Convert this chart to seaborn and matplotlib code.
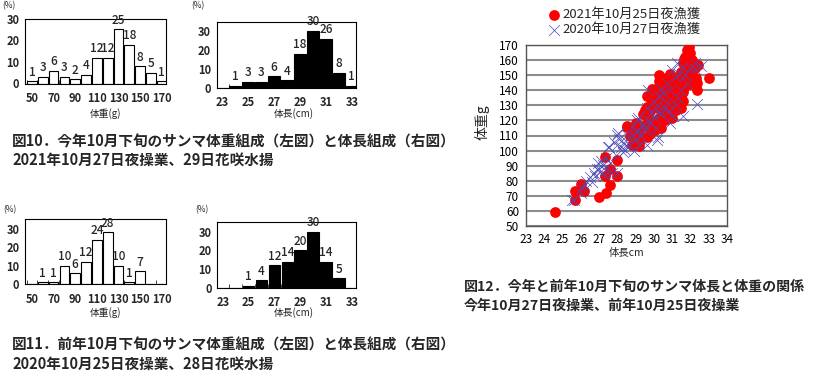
import matplotlib
matplotlib.use("Agg")
import matplotlib.pyplot as plt
import seaborn as sns
import pandas as pd
from matplotlib.ticker import MultipleLocator, FixedLocator

sns.set_style("white")
plt.rcParams['font.family'] = ['Noto Sans CJK JP', 'DejaVu Sans']

# ---------------- data ----------------
weight_bins = [50, 60, 70, 80, 90, 100, 110, 120, 130, 140, 150, 160, 170]
weight_2021 = [1, 3, 6, 3, 2, 4, 12, 12, 25, 18, 8, 5, 1]
weight_2020 = [0, 1, 1, 10, 6, 12, 24, 28, 10, 1, 7, 0, 0]

length_bins = [23, 24, 25, 26, 27, 28, 29, 30, 31, 32, 33]
length_2021 = [0, 1, 3, 3, 6, 4, 18, 30, 26, 8, 1]
length_2020 = [0, 0, 1, 4, 12, 14, 20, 30, 14, 5, 0]

weight_ticks = [50, 70, 90, 110, 130, 150, 170]
length_ticks = [23, 25, 27, 29, 31, 33]

red_len = [24.6, 25.7, 25.7, 26.0, 26.2, 27.0, 27.4, 27.3, 27.3, 27.6, 27.6, 28.0, 28.0,
           28.8, 29.2, 29.2, 28.5, 29.2, 29.6, 29.6, 29.5, 29.9, 31.9, 31.8, 31.65, 31.6,
           32.2, 32.25, 30.3, 30.66, 33.0, 32.35, 32.35, 31.6, 31.6, 30.4, 30.7, 30.97,
           31.25, 31.4, 31.9, 30.0, 29.8, 29.6, 29.9, 30.15, 30.5, 30.7, 31.0, 31.06, 31.0,
           30.9, 31.0, 30.3, 30.4, 30.0, 29.7, 29.5, 29.5, 29.2, 28.96, 28.5, 28.9, 29.2,
           29.6, 30.06, 30.2, 30.5, 30.8, 31.2, 30.1, 30.6, 31.3, 31.5, 29.8, 30.3, 31.8,
           32.0, 31.7, 30.9, 30.4, 29.9, 30.6, 31.2, 31.5, 32.0, 30.8, 29.4, 29.0, 28.7,
           29.8, 31.3, 30.2, 32.1, 31.5, 31.2, 31.8, 32.3, 30.8, 31.5, 32.0, 31.1, 30.6,
           31.7, 32.4, 30.3, 29.9, 30.5]
red_wt = [59, 67, 73, 78, 73, 69, 72, 96, 83, 88, 77, 94, 83,
          104, 103, 106, 116, 108, 136, 128, 117, 113, 168.5, 167, 160.5, 158,
          158, 154.6, 150, 148, 148, 145, 140, 139, 133, 143.5, 144.6, 146.8,
          149, 146.8, 146.8, 138, 135.7, 129, 132.4, 133.5, 137, 139, 139, 135.7, 132.4,
          127, 121.4, 121.4, 114.8, 119, 122.5, 127, 116, 112.5, 113.7, 115.8, 103.7, 106,
          109, 113.7, 128, 125, 130, 127, 140, 142, 142, 136, 126, 146, 150,
          152, 162, 151, 133, 118, 120, 137, 128, 144, 134, 124, 118, 110,
          111, 131, 116, 160, 142, 145, 155, 148, 147, 152, 165, 141, 136,
          143, 157, 143, 141, 131]

blue_len = [25.5, 25.6, 26.05, 26.2, 26.5, 26.7, 26.87, 26.96, 27.05, 27.2, 27.3, 27.6, 27.7,
            27.56, 28.0, 28.2, 28.4, 28.5, 29.6, 30.15, 28.0, 28.3, 28.8, 29.15, 29.06, 29.5,
            31.25, 32.25, 32.6, 32.25, 31.6, 31.4, 31.2, 32.35, 31.6, 31.0, 30.9, 30.7, 30.3,
            30.15, 29.9, 30.2, 29.7, 29.4, 29.06, 29.1, 28.8, 28.5, 28.1, 27.96, 27.5, 27.8,
            30.2, 29.5, 31.7, 32.0, 31.0, 30.7, 30.4, 30.0, 29.7, 30.6, 26.0, 26.3, 26.8,
            27.1, 27.4, 27.0, 27.9, 28.3, 28.6, 29.0, 29.3, 29.8, 30.0, 30.4, 30.8, 31.2,
            31.5, 31.8, 30.5, 29.2, 28.9, 27.3, 26.6, 30.9, 31.3, 30.1, 29.6, 28.05]
blue_wt = [67, 67.5, 75, 77, 82.7, 85, 88, 91.6, 86, 90.5, 87, 91.6, 85,
           102.6, 85, 102.6, 100.4, 103, 103.7, 107, 110.3, 104.8, 115.8, 121.4, 112.5, 115.8,
           158, 158, 156, 154, 155.6, 151, 149, 131, 123, 123, 118, 132.4, 136,
           130.2, 125.8, 125.8, 120.3, 117, 120.3, 113.7, 110.3, 110.3, 108, 103.7, 102.6, 106,
           109.2, 113.7, 150, 154.6, 153.4, 144.6, 141, 132.4, 140, 128, 72, 80, 83,
           93, 95, 88, 97, 99, 105, 108, 110, 118, 122, 124, 126, 130,
           140, 145, 138, 104, 100, 84, 79, 140, 135, 115, 128, 111.9]

legend_red = "2021年10月25日夜漁獲"
legend_blue = "2020年10月27日夜漁獲"

cap10_1 = "図10．今年10月下旬のサンマ体重組成（左図）と体長組成（右図）"
cap10_2 = "2021年10月27日夜操業、29日花咲水揚"
cap11_1 = "図11．前年10月下旬のサンマ体重組成（左図）と体長組成（右図）"
cap11_2 = "2020年10月25日夜操業、28日花咲水揚"
cap12_1 = "図12．今年と前年10月下旬のサンマ体長と体重の関係"
cap12_2 = "今年10月27日夜操業、前年10月25日夜操業"

# ---------------- figure ----------------
W, H = 816, 391
fig = plt.figure(figsize=(W / 100, H / 100), dpi=100)


def axes_px(left, top, right, bottom):
    return fig.add_axes([left / W, 1 - bottom / H, (right - left) / W, (bottom - top) / H])


def hist_panel(rect, bins, vals, color, xlim, ylim, xticks, step):
    ax = axes_px(*rect)
    df = pd.DataFrame({"x": bins, "y": vals})
    sns.barplot(data=df, x="x", y="y", native_scale=True, color=color,
                edgecolor="black", linewidth=0.8, width=0.9, saturation=1, ax=ax)
    ax.set_xlim(*xlim)
    ax.set_ylim(*ylim)
    ax.set_xticks(xticks)
    ax.set_xticklabels([str(t) for t in xticks])
    ax.xaxis.set_minor_locator(FixedLocator([b - step / 2 for b in bins] + [bins[-1] + step / 2]))
    ax.set_yticks([0, 10, 20, 30])
    ax.tick_params(axis="both", which="major", labelsize=8, length=2, width=0.6, pad=2)
    ax.tick_params(axis="x", which="major", length=0, pad=6)
    ax.tick_params(axis="x", which="minor", direction="in", length=3, width=0.6, bottom=True)
    for lbl in ax.get_xticklabels() + ax.get_yticklabels():
        lbl.set_fontweight("bold")
    ax.set_xlabel("")
    ax.set_ylabel("")
    for s in ax.spines.values():
        s.set_color("black")
        s.set_linewidth(0.8)
    for b, v in zip(bins, vals):
        if v > 0:
            ax.text(b, v + ylim[1] * 0.04, str(v), ha="center", va="bottom",
                    fontsize=8.5, fontweight="medium")
    return ax


ax1 = hist_panel((25, 18.5, 166, 83.5), weight_bins, weight_2021, "white",
                 (43.5, 174), (0, 30), weight_ticks, 10)
ax2 = hist_panel((216.7, 21.7, 355.7, 87.7), length_bins, length_2021, "black",
                 (22.57, 33.3), (0, 35), length_ticks, 1)
ax3 = hist_panel((25, 219.3, 166, 284.3), weight_bins, weight_2020, "white",
                 (43.5, 174), (0, 35), weight_ticks, 10)
ax4 = hist_panel((217.3, 222.3, 355.7, 287.7), length_bins, length_2020, "black",
                 (22.57, 33.3), (0, 35), length_ticks, 1)

# (%) labels and axis titles
for (x, y) in [(9, 6), (198, 6), (10, 210), (202, 210)]:
    fig.text(x / W, 1 - y / H, "(%)", fontsize=6, ha="center", va="center")
for (x, y, t) in [(105, 114, "体重(g)"), (294, 114, "体長(cm)"),
                  (105, 313, "体重(g)"), (294, 313, "体長(cm)")]:
    fig.text(x / W, 1 - y / H, t, fontsize=7, ha="center", va="center")

# ---------------- scatter ----------------
ax5 = axes_px(526, 45, 727, 226)
sns.scatterplot(x=red_len, y=red_wt, color="#ff0000", s=60, linewidth=0,
                marker="o", label=legend_red, ax=ax5, zorder=3)
sns.scatterplot(x=blue_len, y=blue_wt, color="#4a4ab8", s=60, linewidth=0.5,
                marker="x", label=legend_blue, ax=ax5, zorder=4)
ax5.set_xlim(23, 34)
ax5.set_ylim(50, 170)
ax5.xaxis.set_major_locator(MultipleLocator(1))
ax5.yaxis.set_major_locator(MultipleLocator(10))
ax5.grid(axis="y", color="#8c8c8c", linewidth=1.5)
ax5.grid(axis="x", visible=False)
ax5.set_axisbelow(True)
ax5.tick_params(axis="both", labelsize=8.5, length=2, width=0.6, pad=3, colors="black")
ax5.tick_params(axis="x", pad=3)
for s in ax5.spines.values():
    s.set_color("#555555")
    s.set_linewidth(1.0)
ax5.set_xlabel("")
ax5.set_ylabel("")
handles, labels = ax5.get_legend_handles_labels()
if ax5.get_legend() is not None:
    ax5.get_legend().remove()
fig.legend(handles, labels, loc="upper left", bbox_to_anchor=(546 / W, 1 - 8 / H),
           frameon=False, fontsize=9.5, handletextpad=0.05, handlelength=1.2,
           labelspacing=0.15, borderaxespad=0, borderpad=0)
fig.text(627 / W, 1 - 253 / H, "体長cm", fontsize=7.5, ha="center", va="center")
fig.text(482 / W, 1 - 122 / H, "体重g", fontsize=10, ha="center", va="center", rotation=90)

# ---------------- captions ----------------
cap_kw = dict(fontsize=10.5, fontweight="bold", ha="left", va="center")
fig.text(12 / W, 1 - 142 / H, cap10_1, **cap_kw)
fig.text(12 / W, 1 - 161 / H, cap10_2, **cap_kw)
fig.text(12 / W, 1 - 345 / H, cap11_1, **cap_kw)
fig.text(12 / W, 1 - 365 / H, cap11_2, **cap_kw)
cap12_kw = dict(cap_kw, fontsize=10.1)
fig.text(464 / W, 1 - 287 / H, cap12_1, **cap12_kw)
fig.text(464 / W, 1 - 306 / H, cap12_2, **cap12_kw)

fig.savefig("out.png", dpi=100)
